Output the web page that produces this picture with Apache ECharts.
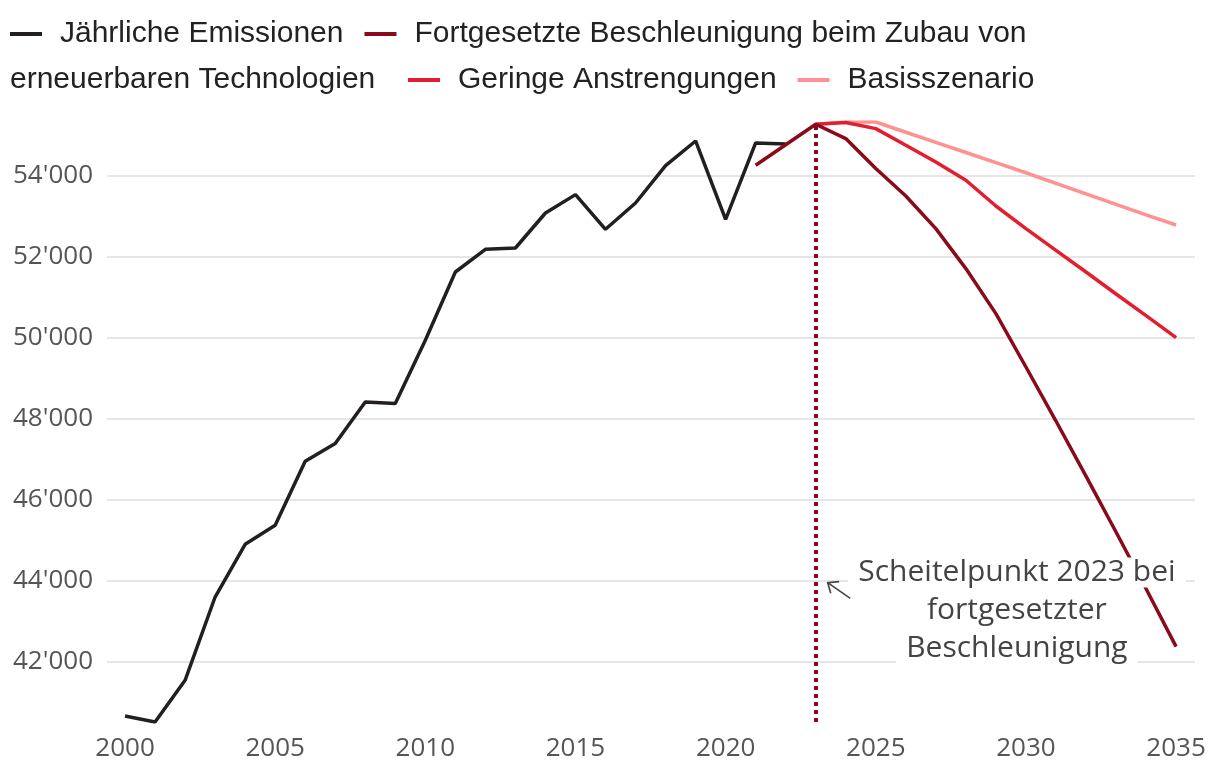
<!DOCTYPE html>
<html><head><meta charset="utf-8">
<script src="https://cdn.jsdelivr.net/npm/echarts@6/dist/echarts.min.js"></script>
<style>html,body{margin:0;padding:0;background:#fff}#c{width:1220px;height:778px}</style>
</head><body><div id="c"></div>
<script>
const histYears = [2000,2001,2002,2003,2004,2005,2006,2007,2008,2009,2010,2011,2012,2013,2014,2015,2016,2017,2018,2019,2020,2021,2022];
const histValues = [40667,40519,41548,43605,44906,45375,46956,47393,48420,48380,49943,51630,52190,52222,53086,53540,52684,53333,54257,54864,52931,54815,54790];
const accelYears = [2021,2022,2023,2024,2025,2026,2027,2028,2029,2030,2031,2032,2033,2034,2035];
const accelValues = [54264,54770,55277,54923,54183,53506,52701,51714,50602,49284,47950,46590,45210,43810,42380];
const lowYears = [2023,2024,2025,2026,2027,2028,2029,2030,2031,2032,2033,2034,2035];
const lowValues = [55277,55320,55170,54758,54346,53894,53259,52701,52165,51630,51086,50553,50010];
const baseYears = [2023,2024,2025,2026,2027,2028,2029,2030,2031,2032,2033,2034,2035];
const baseValues = [55277,55333,55333,55080,54830,54580,54330,54080,53820,53560,53300,53040,52790];
const xTicks = [2000,2005,2010,2015,2020,2025,2030,2035];
const yTicks = [42000,44000,46000,48000,50000,52000,54000];
const peakYear = 2023;
const peakValue = 55277;
const names = ['Jährliche Emissionen','Fortgesetzte Beschleunigung beim Zubau von erneuerbaren Technologien','Geringe Anstrengungen','Basisszenario'];
const colors = ['#231f20','#8a0a1b','#e21f2e','#ff9191'];

const pairs = (xs, ys) => xs.map((x,i)=>[x, ys[i]]);
const allVals = [].concat(histValues, accelValues, lowValues, baseValues);
const yMinVal = Math.min(...allVals);

const chart = echarts.init(document.getElementById('c'));
const legendText = {fontFamily:'Liberation Sans', fontSize:30, color:'#222', lineHeight:36,
  rich:{s:{width:13, fontSize:30, lineHeight:36}}};
function mkSeries(i, xs, ys, z, extra){
  return Object.assign({name:names[i], type:'line', data:pairs(xs,ys), showSymbol:false, symbol:'none',
    lineStyle:{color:colors[i], width:3.5}, itemStyle:{color:colors[i]}, z:z, animation:false}, extra||{});
}
const fmt = v => String(v).replace(/\B(?=(\d{3})+(?!\d))/g, "'");
chart.setOption({
  animation:false,
  grid:{left:107, right:25, top:122, bottom:56},
  legend:[
    {data:[names[0],names[1]], left:10, top:16, padding:0, icon:'rect', itemWidth:32, itemHeight:4, itemGap:21,
     selectedMode:false, textStyle:legendText,
     formatter: n => '{s| }' + (n===names[1] ? 'Fortgesetzte Beschleunigung beim Zubau von' : n)},
    {data:[names[2],names[3]], left:408, top:62, padding:0, icon:'rect', itemWidth:32, itemHeight:4, itemGap:21,
     selectedMode:false, textStyle:legendText, formatter: n => '{s| }' + n}
  ],
  xAxis:{type:'value', min:1999.4, max:2035.63,
    axisLine:{show:false}, axisTick:{show:false}, splitLine:{show:false},
    axisLabel:{customValues:xTicks, color:'#555', fontFamily:'Open Sans', fontSize:26, margin:14, formatter: v=>String(v)}},
  yAxis:{type:'value', min:'dataMin', max:'dataMax',
    axisLine:{show:false}, axisTick:{show:false, customValues:yTicks},
    splitLine:{show:true, lineStyle:{color:'#e6e6e6', width:2}},
    axisLabel:{customValues:yTicks, color:'#555', fontFamily:'Open Sans', fontSize:26, margin:14, formatter: fmt}},
  series:[
    mkSeries(0, histYears, histValues, 3),
    mkSeries(1, accelYears, accelValues, 5, {markLine:{silent:true, symbol:'none', animation:false,
      lineStyle:{color:colors[1], width:4, type:[4,4]}, label:{show:false},
      data:[[{coord:[peakYear, yMinVal]},{coord:[peakYear, peakValue]}]]}}),
    mkSeries(2, lowYears, lowValues, 4),
    mkSeries(3, baseYears, baseValues, 2)
  ]
});

const P = c => chart.convertToPixel({gridIndex:0}, c);
const tip = P([2023.4, 43960]);
const tail = P([2024.15, 43570]);
const armA = P([2023.78, 43985]);
const armB = P([2023.5, 43700]);
const txt = P([2029.7, 43270]);
const leg2 = [10, 80];
chart.setOption({graphic:[
  {type:'text', silent:true, style:{text:'erneuerbaren Technologien', x:leg2[0], y:leg2[1], align:'left', verticalAlign:'middle',
    fontFamily:'Liberation Sans', fontSize:30, fill:'#222'}},
  {type:'polyline', silent:true, shape:{points:[tail, tip]}, style:{stroke:'#444', lineWidth:1.6, fill:null}, z:10},
  {type:'polyline', silent:true, shape:{points:[armA, tip, armB]}, style:{stroke:'#444', lineWidth:1.6, fill:null}, z:10},
  {type:'text', silent:true, z:10, style:{
    text:'{a|Scheitelpunkt 2023 bei}\n{a|fortgesetzter}\n{a|Beschleunigung}',
    x:txt[0], y:txt[1], align:'center', verticalAlign:'middle',
    rich:{a:{fontFamily:'Open Sans', fontSize:30, fill:'#444', backgroundColor:'#fff', padding:[0,10], lineHeight:38}}}}
]});
</script></body></html>
